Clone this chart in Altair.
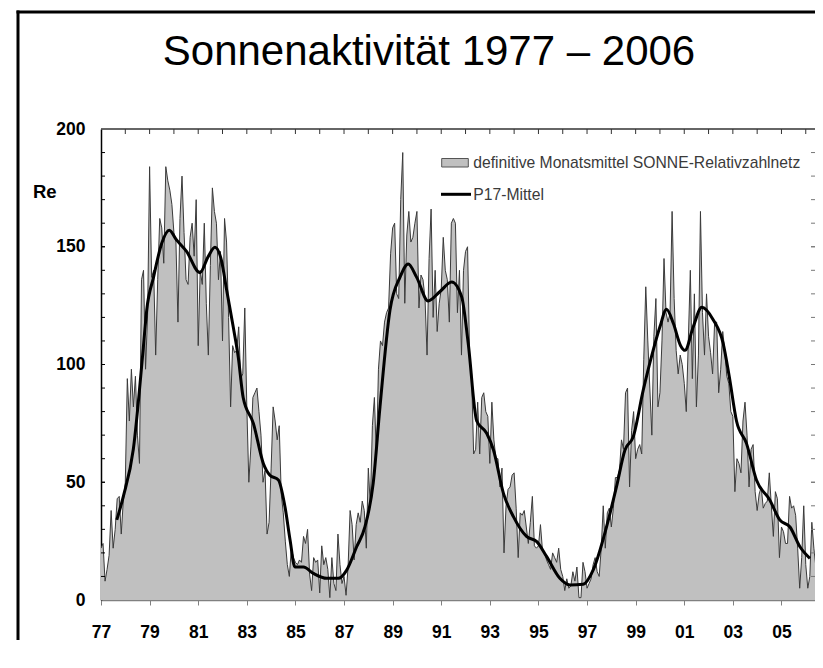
import altair as alt
import pandas as pd

# ---------------- data ----------------
title_text = "Sonnenaktivität 1977 – 2006"
y_label = "Re"
legend_labels = ["definitive Monatsmittel SONNE-Relativzahlnetz", "P17-Mittel"]

start_year = 1977
# monthly means, Jan 1977 .. Dec 1986
monthly_1977_1986 = [
    22, 24, 8, 13, 19, 38, 22, 30, 43, 44, 28, 42,
    50, 94, 76, 98, 82, 95, 70, 58, 136, 140, 98, 121,
    184, 137, 140, 104, 136, 162, 158, 143, 184, 178, 174, 168,
    156, 152, 118, 162, 180, 156, 136, 134, 154, 160, 146, 170,
    108, 140, 134, 160, 126, 104, 142, 175, 165, 160, 136, 148,
    110, 162, 152, 120, 82, 108, 105, 106, 116, 94, 96, 124,
    82, 50, 65, 86, 88, 90, 80, 70, 50, 55, 28, 33,
    56, 82, 76, 68, 74, 45, 37, 25, 15, 10, 22, 18,
    16, 15, 17, 16, 27, 24, 30, 11, 4, 18, 16, 17,
    3, 23, 15, 18, 13, 1, 18, 7, 4, 28, 15, 7,
]
# Jan 1987 .. Dec 1996
monthly_1987_1996 = [
    10, 2, 14, 38, 32, 17, 32, 37, 33, 42, 38, 22,
    56, 40, 74, 86, 60, 98, 110, 108, 118, 122, 124, 147,
    158, 160, 130, 128, 170, 190, 126, 155, 165, 152, 154, 160,
    165, 124, 138, 136, 128, 104, 145, 166, 120, 140, 114, 126,
    132, 154, 140, 136, 118, 160, 162, 160, 122, 140, 104, 140,
    148, 150, 104, 96, 62, 64, 84, 62, 86, 88, 80, 78,
    58, 84, 68, 60, 60, 48, 56, 20, 40, 47, 48, 53,
    54, 39, 18, 37, 36, 38, 31, 24, 33, 44, 23, 22,
    23, 32, 21, 20, 17, 15, 13, 20, 18, 16, 22, 13,
    10, 4, 9, 5, 6, 12, 8, 14, 1, 1, 16, 12,
]
# Jan 1997 .. Sep 2006
monthly_1997_2006 = [
    5, 7, 9, 15, 18, 12, 10, 22, 40, 22, 37, 39,
    31, 39, 52, 52, 55, 68, 64, 88, 90, 48, 72, 80,
    60, 64, 66, 62, 102, 133, 110, 90, 70, 112, 128, 82,
    88, 110, 145, 122, 118, 122, 165, 128, 106, 96, 104, 100,
    92, 80, 110, 140, 94, 130, 82, 104, 165, 122, 104, 130,
    112, 105, 96, 118, 118, 88, 98, 114, 106, 95, 92, 80,
    78, 46, 60, 58, 54, 76, 84, 70, 48, 64, 66, 46,
    38, 45, 48, 39, 41, 42, 54, 40, 27, 46, 43, 18,
    31, 29, 24, 24, 44, 39, 40, 36, 22, 5, 18, 40,
    15, 5, 10, 33, 22, 14, 12, 13, 14,
]

# P17 smoothed curve, read at points along the line
p17_years = [1977.65, 1977.92, 1978.33, 1978.74, 1978.88, 1979.16, 1979.5, 1979.81,
             1980.1, 1980.52, 1981.07, 1981.41, 1981.69, 1981.96, 1982.17, 1982.44,
             1982.65, 1982.85, 1983.27, 1983.68, 1983.95, 1984.3, 1984.57, 1984.78,
             1984.98, 1985.33, 1985.74, 1986.29, 1986.77, 1987.11, 1987.52, 1987.86,
             1988.2, 1988.48, 1988.89, 1989.3, 1989.64, 1989.99, 1990.46, 1990.95,
             1991.43, 1991.84, 1992.11, 1992.46, 1992.87, 1993.15, 1993.56, 1993.97,
             1994.52, 1994.93, 1995.34, 1995.88, 1996.3, 1996.84, 1997.25, 1997.8,
             1998.21, 1998.56, 1998.9, 1999.31, 1999.72, 2000.0, 2000.27, 2000.55,
             2000.85, 2001.03, 2001.37, 2001.72, 2002.19, 2002.6, 2002.85, 2003.15,
             2003.56, 2003.97, 2004.52, 2004.93, 2005.35, 2005.76, 2006.17]
p17_values = [34, 44, 64, 107, 123, 137, 151.5, 157,
              153, 148, 139, 145.8, 149.8, 144, 131.6, 116,
              103, 86, 75, 58, 53, 51, 39.6, 25.5,
              14, 14, 11.3, 9.2, 9.2, 12.7, 22.6, 31,
              49.5, 82, 123, 137, 142.7, 137, 127, 131,
              135, 128.8, 109, 76, 70.8, 63.7, 45.3, 35.4,
              26.9, 24.8, 18.4, 9.2, 6.4, 6.7, 12.7, 31,
              48, 63.7, 69.3, 89, 106, 116, 123.5, 117.5,
              108, 106, 116, 124.3, 119, 109, 95, 76,
              66.5, 51, 42.5, 34, 31, 22.6, 17.7]

x_end = 2006.38
x_tick_years = list(range(1977, 2007))
y_label_values = [0, 50, 100, 150, 200]
y_minor_ticks = list(range(10, 200, 10))

# ---------------- build tables ----------------
monthly = monthly_1977_1986 + monthly_1987_1996 + monthly_1997_2006
df = pd.DataFrame({"t": [start_year + i / 12 for i in range(len(monthly))], "re": monthly})
dfp = pd.DataFrame({"t": p17_years, "re": p17_values})
df_top = pd.DataFrame({"t": x_tick_years[1:]})
df_yt = pd.DataFrame({"v": y_minor_ticks + [50, 100, 150]})
one = pd.DataFrame({"a": [0]})

FONT = "Liberation Sans"
W, H = 714, 471

xscale = alt.Scale(domain=[start_year, x_end], nice=False, zero=False)
yscale = alt.Scale(domain=[0, 200], nice=False)

x_axis = alt.Axis(
    values=x_tick_years,
    labelExpr="(datum.value - 1977) % 2 == 0 ? substring(toString(datum.value), 2, 4) : ''",
    tickSize=5, tickColor="#808080", tickWidth=1,
    domainColor="#808080", domainWidth=1.5,
    labelFont=FONT, labelFontSize=17.5, labelFontWeight="bold", labelColor="black",
    labelPadding=18, labelOverlap=False, labelFlush=False, grid=False, title=None,
)
y_axis = alt.Axis(
    values=y_label_values, ticks=False,
    domainColor="black", domainWidth=1.5,
    labelFont=FONT, labelFontSize=17.5, labelFontWeight="bold", labelColor="black",
    labelPadding=16, grid=False, title=None,
)

area = alt.Chart(df).mark_area(color="#c0c0c0", interpolate="linear", clip=True).encode(
    x=alt.X("t:Q", scale=xscale, axis=x_axis),
    y=alt.Y("re:Q", scale=yscale, axis=y_axis),
)
outline = alt.Chart(df).mark_line(color="#3a3a3a", strokeWidth=1, clip=True).encode(
    x=alt.X("t:Q"), y=alt.Y("re:Q"))
p17 = alt.Chart(dfp).mark_line(color="black", strokeWidth=3, interpolate="monotone").encode(
    x=alt.X("t:Q"), y=alt.Y("re:Q"))

top_border = alt.Chart(one).mark_rule(color="#333333", strokeWidth=1.5).encode(
    x=alt.value(0), x2=alt.value(W), y=alt.value(0))
top_ticks = alt.Chart(df_top).mark_rule(color="#333333", strokeWidth=1).encode(
    x=alt.X("t:Q"), y=alt.value(0), y2=alt.value(5))
left_ticks = alt.Chart(df_yt).mark_rule(color="black", strokeWidth=1).encode(
    y=alt.Y("v:Q"), x=alt.value(0), x2=alt.value(4))
right_ticks = alt.Chart(df_yt).mark_rule(color="#777777", strokeWidth=1).encode(
    y=alt.Y("v:Q"), x=alt.value(W - 4), x2=alt.value(W))

frame_left = alt.Chart(one).mark_rule(color="black", strokeWidth=3).encode(
    x=alt.value(-83), y=alt.value(-118.5), y2=alt.value(H + 200))
frame_top = alt.Chart(one).mark_rule(color="black", strokeWidth=3).encode(
    x=alt.value(-84.5), x2=alt.value(W + 10), y=alt.value(-117))

title = alt.Chart(pd.DataFrame({"s": [title_text]})).mark_text(
    font=FONT, fontSize=42, color="black", align="center", baseline="alphabetic"
).encode(text="s:N", x=alt.value(328), y=alt.value(-64))

ylab = alt.Chart(pd.DataFrame({"s": [y_label]})).mark_text(
    font=FONT, fontSize=18.5, fontWeight="bold", color="black", align="left", baseline="middle"
).encode(text="s:N", x=alt.value(-68), y=alt.value(63))

leg_rect = alt.Chart(one).mark_rect(color="#c0c0c0", stroke="#555555", strokeWidth=1).encode(
    x=alt.value(340.7), x2=alt.value(367.3), y=alt.value(29.5), y2=alt.value(38))
leg_line = alt.Chart(one).mark_rule(color="black", strokeWidth=3).encode(
    x=alt.value(340), x2=alt.value(370), y=alt.value(65.3))
leg_text = alt.Chart(pd.DataFrame({"s": legend_labels, "yy": [34.3, 66]})).mark_text(
    font=FONT, fontSize=15.7, color="#3a3a3a", align="left", baseline="middle"
).encode(text="s:N", x=alt.value(372.3), y=alt.Y("yy:Q", scale=None, axis=None))

chart = alt.layer(
    area, outline, p17, top_border, top_ticks, left_ticks, right_ticks,
    frame_left, frame_top, title, ylab, leg_rect, leg_line, leg_text,
).properties(
    width=W, height=H,
    autosize=alt.AutoSizeParams(type="none"),
    padding={"left": 93, "top": 121, "right": 0, "bottom": 40},
    background="white",
).configure_view(stroke=None)

chart.save("out.html", embed_options={"renderer": "svg", "actions": False})
